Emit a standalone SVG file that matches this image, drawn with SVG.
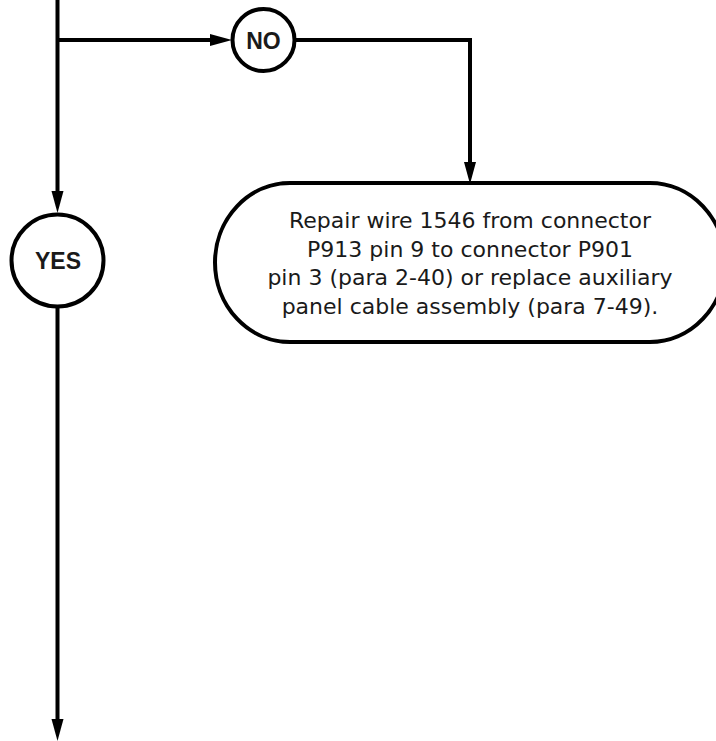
<svg xmlns="http://www.w3.org/2000/svg" width="716" height="741" viewBox="0 0 716 741">
<style>
.ln{fill:none;stroke:#000;stroke-width:4}
.ah{fill:#000;stroke:none}
.nd{fill:#fff;stroke:#000;stroke-width:4}
.lbl{font-family:"Liberation Sans",Arial,sans-serif;font-weight:bold;font-size:23px;fill:#1a1a1a;text-anchor:middle}
.txt{font-family:"DejaVu Sans","Liberation Sans",sans-serif;font-size:22px;fill:#1a1a1a;text-anchor:middle}
</style>
<rect width="716" height="741" fill="#fff"/>
<g id="connectors">
<path class="ln" d="M57.5,0 V193"/>
<polygon class="ah" points="51.5,191 63.5,191 57.5,213"/>
<path class="ln" d="M57.5,40 H212"/>
<polygon class="ah" points="210,34 210,46 232,40"/>
<path class="ln" d="M295,40 H470 V164"/>
<polygon class="ah" points="464,162 476,162 470,184"/>
<path class="ln" d="M57.5,307 V721"/>
<polygon class="ah" points="51.5,719 63.5,719 57.5,741"/>
</g>
<g id="no">
<circle class="nd" cx="263.5" cy="40" r="31"/>
<text class="lbl" x="263.5" y="48.5">NO</text>
</g>
<g id="yes">
<circle class="nd" cx="57.5" cy="260.5" r="46"/>
<text class="lbl" x="58" y="269">YES</text>
</g>
<g id="repair">
<rect class="nd" x="215" y="183" width="510" height="159" rx="75" ry="79.5"/>
<text class="txt" x="470" y="228">Repair wire 1546 from connector</text>
<text class="txt" x="470" y="257">P913 pin 9 to connector P901</text>
<text class="txt" x="470" y="285">pin 3 (para 2-40) or replace auxiliary</text>
<text class="txt" x="470" y="314">panel cable assembly (para 7-49).</text>
</g>
</svg>
